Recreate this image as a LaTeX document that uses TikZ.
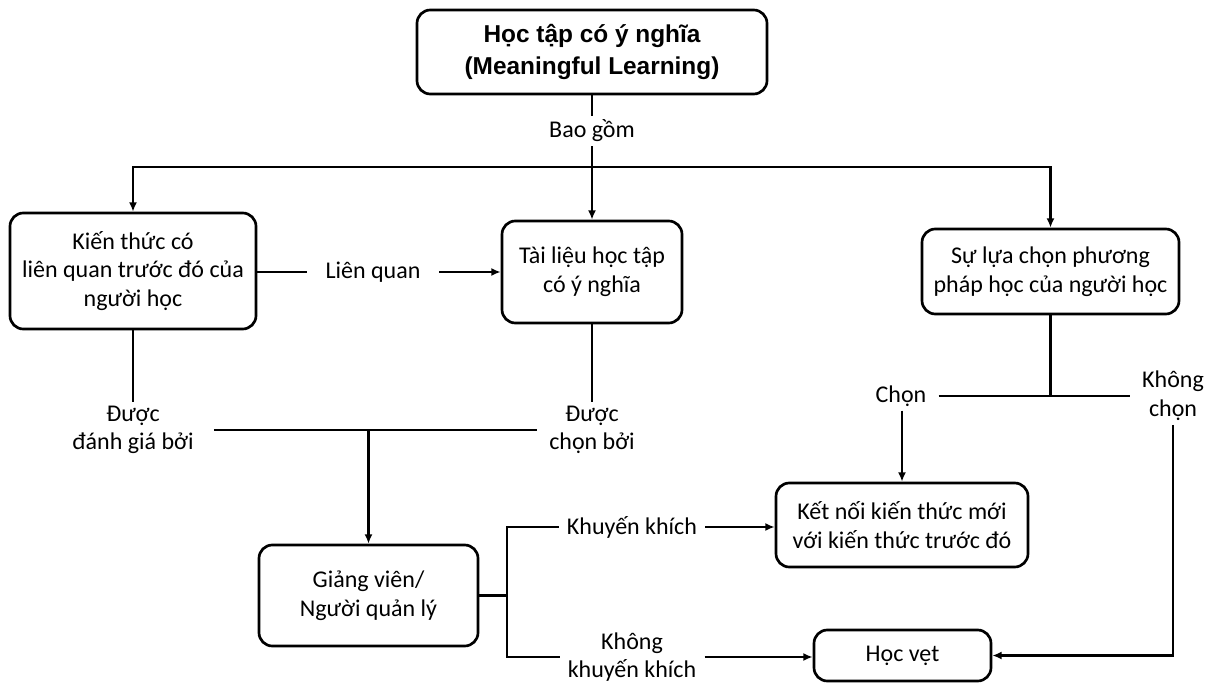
\documentclass[tikz,border=0pt]{standalone}
\usepackage{fontspec}
\setmainfont{Carlito}
\newfontfamily\titlefont{Liberation Sans}
\usetikzlibrary{arrows.meta}
\begin{document}
\begin{tikzpicture}[x=0.75pt,y=-0.75pt,
  every node/.style={font=\fontsize{18}{21.5}\selectfont},
  box/.style={draw,line width=2pt,rounded corners=10pt,align=center,inner sep=0pt},
  lbl/.style={align=center,inner xsep=9pt,inner ysep=3pt},
  ln/.style={line width=2pt},
  arr/.style={line width=2pt,-{Latex[length=7pt,width=6pt]}}]
\useasboundingbox (0,0) rectangle (1217,684);

% boxes
\node[box,minimum width=262.5pt,minimum height=63pt,font=\fontsize{18.3}{24}\selectfont\titlefont\bfseries]
  (top) at (592,52) {Học tập có ý nghĩa\\(Meaningful Learning)};
\node[box,minimum width=184.5pt,minimum height=87pt] (kien) at (133,271)
  {Kiến thức có\\liên quan trước đó của\\người học};
\node[box,minimum width=135pt,minimum height=76.5pt] (tailieu) at (592,272)
  {Tài liệu học tập\\có ý nghĩa};
\node[box,minimum width=192.75pt,minimum height=63.75pt] (sulua) at (1050.5,271.5)
  {Sự lựa chọn phương\\pháp học của người học};
\node[box,minimum width=164.25pt,minimum height=75.75pt] (giang) at (368.5,595.5)
  {Giảng viên/\\Người quản lý};
\node[box,minimum width=189pt,minimum height=63pt] (ketnoi) at (902,525)
  {Kết nối kiến thức mới\\với kiến thức trước đó};
\node[box,minimum width=132.75pt,minimum height=38.25pt] (hocvet) at (902.5,655.5)
  {Học vẹt};

% connector labels
\node[lbl] (baogom) at (592,131) {Bao gồm};
\node[lbl,inner xsep=14pt] (lienquan) at (373,272) {Liên quan};
\node[lbl,inner xsep=15pt] (duoc1) at (133,430) {Được\\đánh giá bởi};
\node[lbl] (duoc2) at (592,430) {Được\\chọn bởi};
\node[lbl] (chon) at (901,396) {Chọn};
\node[lbl] (khongchon) at (1173,396) {Không\\chọn};
\node[lbl,inner xsep=6pt] (khuyen) at (632,527) {Khuyến khích};
\node[lbl,inner xsep=6pt] (khongkhuyen) at (632,657) {Không\\khuyến khích};

% junction points
\coordinate (bus) at (592,167);
\coordinate (split) at (507,595.5);
\coordinate (fork) at (1050.5,396);

% top branch
\draw[ln] (top) -- (baogom);
\draw[arr] (baogom) -- (tailieu);
\draw[arr] (bus) -| (kien.north);
\draw[arr] (bus) -| (sulua.north);

% prior knowledge relates to material
\draw[ln] (kien.east |- lienquan) -- (lienquan.west);
\draw[arr] (lienquan.east) -- (lienquan.east -| tailieu.west);

% both assessed / chosen by the lecturer
\draw[ln] (kien) -- (duoc1);
\draw[ln] (tailieu) -- (duoc2);
\draw[ln] (duoc1.east) -- (duoc2.west);
\draw[arr] (giang.north |- duoc1.east) -- (giang.north);

% lecturer encourages or not
\draw[ln] (giang.east |- split) -- (split);
\draw[ln] (khuyen.west) -| (split) |- (khongkhuyen.west);
\draw[arr] (khuyen.east) -- (khuyen.east -| ketnoi.west);
\draw[arr] (khongkhuyen.east) -- (khongkhuyen.east -| hocvet.west);

% learner's choice of method
\draw[ln] (sulua) -- (fork);
\draw[ln] (chon.east) -- (khongchon.west);
\draw[arr] (chon.south -| ketnoi.north) -- (ketnoi.north);
\draw[arr] (khongchon.south) |- (hocvet.east);
\end{tikzpicture}
\end{document}
